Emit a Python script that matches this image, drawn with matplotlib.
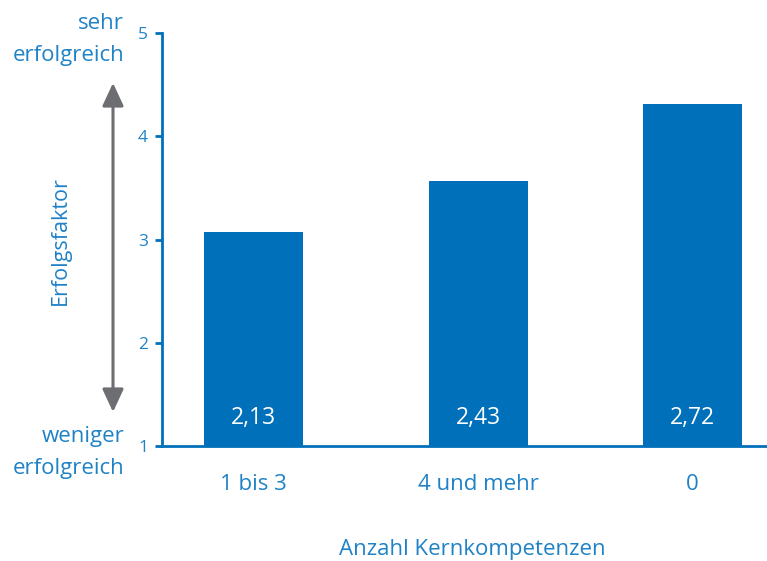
import matplotlib
matplotlib.use("Agg")
import matplotlib.pyplot as plt
from matplotlib.patches import FancyArrowPatch

categories = ["1 bis 3", "4 und mehr", "0"]
positions = [0, 1, 1.95]
bar_heights = [3.07, 3.57, 4.31]
bar_labels = ["2,13", "2,43", "2,72"]
yticks = [1, 2, 3, 4, 5]

bar_color = "#0070BA"
text_color = "#1F82C6"
arrow_color = "#6D6E71"

plt.rcParams['font.family'] = ['Open Sans', 'DejaVu Sans']

W, H = 767, 561
fig = plt.figure(figsize=(W/100, H/100), dpi=100)
ax = fig.add_axes([162/W, 1-446/H, (767-162)/W, (446-33)/H])

ax.bar(positions, [h - 1 for h in bar_heights], bottom=1, width=0.44,
       color=bar_color, zorder=2)
for xi, lab in zip(positions, bar_labels):
    ax.text(xi, 1.27, lab, ha='center', va='center', color='white', fontsize=16.5)

ax.set_ylim(1, 5)
ax.set_xlim(-0.408, 2.28)
ax.set_yticks(yticks)
ax.set_yticklabels([str(t) for t in yticks], color=text_color, fontsize=12.5)
ax.set_xticks(positions)
ax.set_xticklabels(categories, color=text_color, fontsize=16)
ax.tick_params(axis='x', length=0, pad=20)
ax.tick_params(axis='y', length=5, width=2, color=bar_color, pad=5)

for s in ['top', 'right']:
    ax.spines[s].set_visible(False)
for s in ['left', 'bottom']:
    ax.spines[s].set_color(bar_color)
    ax.spines[s].set_linewidth(2)

fig.text(472/W, 1-549/H, "Anzahl Kernkompetenzen", ha='center', va='center',
         color=text_color, fontsize=16)

for txt, base in [("sehr", 29), ("erfolgreich", 61),
                  ("weniger", 442), ("erfolgreich", 474)]:
    fig.text(124/W, 1-base/H, txt, ha='right', va='baseline',
             color=text_color, fontsize=16)
fig.text(60/W, 1-241/H, "Erfolgsfaktor", ha='center', va='center', rotation=90,
         color=text_color, fontsize=15.5)

fig.patches.append(FancyArrowPatch(
    (113/W, 1-83/H), (113/W, 1-412/H), transform=fig.transFigure,
    arrowstyle='<|-|>,head_length=14,head_width=6.5', color=arrow_color,
    linewidth=2.2, mutation_scale=1, shrinkA=0, shrinkB=0))

fig.savefig("out.png", dpi=100)
